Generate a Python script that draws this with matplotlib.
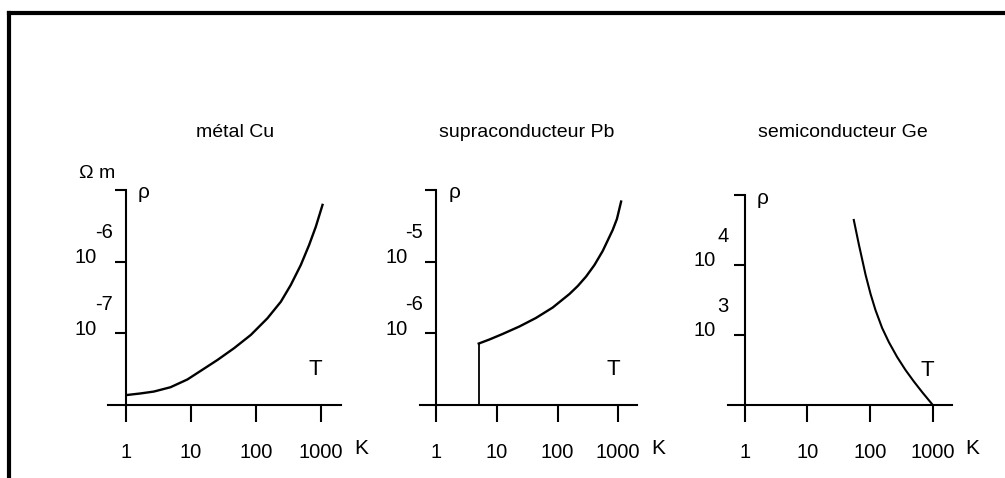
import matplotlib.pyplot as plt
from matplotlib.lines import Line2D

plt.rcParams['font.family'] = ['Liberation Sans', 'DejaVu Sans']

# Data (T in K, rho in ohm m)
titles = ['métal Cu', 'supraconducteur Pb', 'semiconducteur Ge']

cu_T = [1.06, 1.7, 2.72, 4.9, 8.9, 14.3, 25.8, 46.4, 84, 151, 243, 345, 492, 661, 838, 1062]
cu_rho = [1.38e-8, 1.45e-8, 1.54e-8, 1.77e-8, 2.27e-8, 3.0e-8, 4.25e-8, 6.2e-8, 9.5e-8,
          1.62e-7, 2.76e-7, 4.72e-7, 8.97e-7, 1.71e-6, 3.08e-6, 6.2e-6]

pb_Tc = 5.0
pb_T = [5.0, 7.5, 12.4, 23.4, 44, 83, 157, 215, 295, 405, 555, 811, 952, 1117]
pb_rho = [7.2e-7, 8.2e-7, 9.8e-7, 1.245e-6, 1.64e-6, 2.29e-6, 3.54e-6, 4.57e-6,
          6.2e-6, 8.97e-6, 1.41e-5, 2.77e-5, 3.94e-5, 6.9e-5]

ge_T = [55, 66, 85, 102, 122, 156, 200, 271, 369, 501, 680, 1007]
ge_rho = [4.4e4, 2.0e4, 7.2e3, 3.85e3, 2.28e3, 1.26e3, 7.9e2, 4.85e2, 3.16e2,
          2.17e2, 1.53e2, 1.0e2]

x_ticks = [1, 10, 100, 1000]
x_labels = ['1', '10', '100', '1000']
y_ranges = [(1e-8, 1e-5), (1e-7, 1e-4), (1e2, 1e5)]
y_label_ticks = [[(1e-6, '-6'), (1e-7, '-7')],
                 [(1e-5, '-5'), (1e-6, '-6')],
                 [(1e4, '4'), (1e3, '3')]]

W, H = 1005, 478
fig = plt.figure(figsize=(W / 100, H / 100), dpi=100)

# axes boxes in pixels: left, bottom(from top), width, top(from top)
boxes = [(108, 405, 233, 190), (420, 405, 217, 190), (728, 405, 224, 195)]
title_x = [235, 527, 843]
axes = []
for (l, b, w, t) in boxes:
    ax = fig.add_axes([l / W, (H - b) / H, w / W, (b - t) / H])
    axes.append(ax)

xlim = (10 ** -0.27, 10 ** 3.31)
lw = 1.5

for i, ax in enumerate(axes):
    ax.set_xscale('log')
    ax.set_yscale('log')
    ax.set_xlim(*xlim)
    ax.set_ylim(*y_ranges[i])
    ax.patch.set_alpha(0)
    for s in ['top', 'right']:
        ax.spines[s].set_visible(False)
    ax.spines['left'].set_position(('data', 1))
    ax.spines['left'].set_bounds(*y_ranges[i])
    ax.spines['left'].set_linewidth(lw)
    ax.spines['bottom'].set_linewidth(lw)
    ax.set_xticks(x_ticks)
    ax.set_xticklabels(x_labels, fontsize=14.5)
    ax.xaxis.set_minor_locator(plt.NullLocator())
    ax.yaxis.set_minor_locator(plt.NullLocator())
    ymin, ymax = y_ranges[i]
    ax.set_yticks([ymin * 10, ymin * 100, ymax])
    ax.set_yticklabels([])
    ax.tick_params(axis='x', direction='out', length=12, width=lw, pad=15)
    ax.tick_params(axis='y', direction='out', length=8, width=lw)
    fig.text(title_x[i] / W, 1 - 133 / H, titles[i], ha='center', va='center', fontsize=14)
    # y tick labels drawn as 10 + raised exponent
    for val, ex in y_label_ticks[i]:
        ax.annotate('10', xy=(1, val), xycoords='data', xytext=(-40, 4),
                    textcoords='offset pixels', ha='center', va='center', fontsize=14.5)
        ax.annotate(ex, xy=(1, val), xycoords='data', xytext=(-22, 29),
                    textcoords='offset pixels', ha='center', va='center', fontsize=14.5)
    # rho and T labels
    ax.annotate('ρ', xy=(1, ymax), xycoords='data', xytext=(18, -3),
                textcoords='offset pixels', ha='center', va='center', fontsize=15)
    ax.text(0.89, 0.165, 'T', transform=ax.transAxes, ha='center', va='center', fontsize=16)
    ax.annotate('K', xy=(1000, ymin), xycoords='data', xytext=(40, -43),
                textcoords='offset pixels', ha='center', va='center', fontsize=15)

axes[0].annotate('Ω m', xy=(1, 1e-5), xycoords='data', xytext=(-28, 16),
                 textcoords='offset pixels', ha='center', va='center', fontsize=14)

axes[0].plot(cu_T, cu_rho, color='black', lw=1.7, solid_joinstyle='round')
axes[1].plot([pb_Tc, pb_Tc], [1e-7, pb_rho[0]], color='black', lw=1.3)
axes[1].plot(pb_T, pb_rho, color='black', lw=1.7, solid_joinstyle='round')
axes[2].plot(ge_T, ge_rho, color='black', lw=1.5, solid_joinstyle='round')

# frame (top and left edge only)
fig.add_artist(Line2D([9 / W, 1], [1 - 13 / H, 1 - 13 / H], color='black', lw=3))
fig.add_artist(Line2D([9 / W, 9 / W], [0, 1 - 13 / H], color='black', lw=3))

fig.savefig('out.png', dpi=100)
